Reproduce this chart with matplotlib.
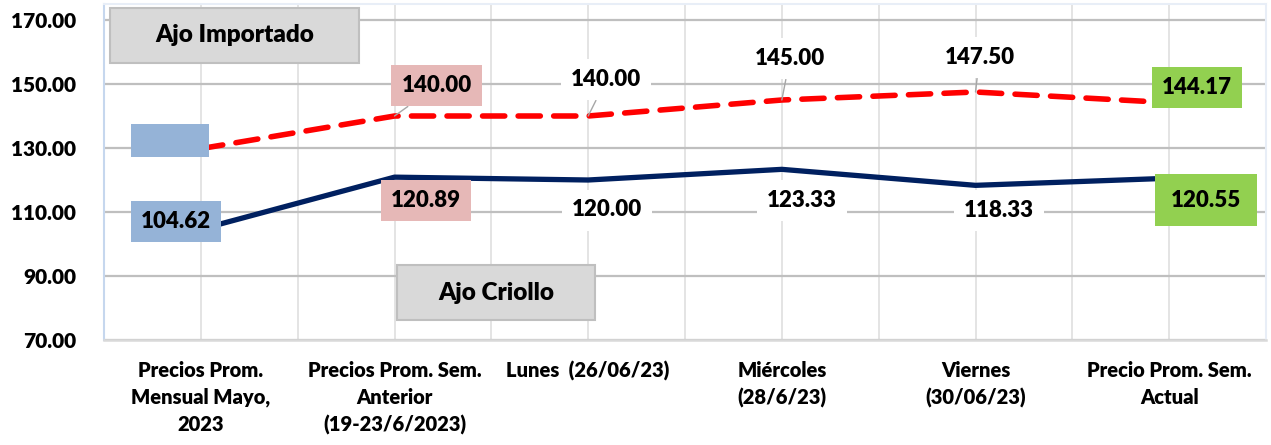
import matplotlib
matplotlib.use("Agg")
import matplotlib.pyplot as plt
from matplotlib.patches import Rectangle
from matplotlib.offsetbox import DrawingArea, AnnotationBbox

plt.rcParams['font.family'] = ['Lato', 'DejaVu Sans']
WT = 'heavy'
plt.rcParams['font.weight'] = WT

categories = ["Precios Prom.\nMensual Mayo,\n2023",
              "Precios Prom. Sem.\nAnterior\n(19-23/6/2023)",
              "Lunes  (26/06/23)",
              "Miércoles\n(28/6/23)",
              "Viernes\n(30/06/23)",
              "Precio Prom. Sem.\nActual"]
importado = [129.8, 140.00, 140.00, 145.00, 147.50, 144.17]
criollo = [104.62, 120.89, 120.00, 123.33, 118.33, 120.55]
yticks = [70, 90, 110, 130, 150, 170]

W, H = 1271, 445
fig = plt.figure(figsize=(W / 100, H / 100), dpi=100)
ax = fig.add_axes([104 / W, 1 - 340 / H, (1266 - 104) / W, (340 - 4) / H])

FS = 16
x = list(range(len(categories)))
ax.set_xlim(-0.5, 5.5)
ax.set_ylim(70, 175)

# grid
for yv in yticks:
    ax.axhline(yv, color='#bfbfbf', lw=1.6, zorder=1)
for k in range(12):
    ax.axvline(-0.5 + 0.5 * k, color='#e4e4e4', lw=1.4, zorder=0.5)

for s in ['top', 'right']:
    ax.spines[s].set_color('#e8eef7')
    ax.spines[s].set_linewidth(1.5)
ax.spines['left'].set_color('#c6d7ee')
ax.spines['left'].set_linewidth(1.5)
ax.spines['bottom'].set_color('#d9d9d9')
ax.spines['bottom'].set_linewidth(1.8)

ax.set_yticks(yticks)
ax.set_yticklabels([f"{v:.2f}" for v in yticks], fontsize=15, fontweight=WT)
ax.tick_params(axis='y', length=0, pad=20)
ax.set_xticks(x)
ax.set_xticklabels(categories, fontsize=14.5, fontweight=WT, linespacing=1.5)
ax.tick_params(axis='x', length=0, pad=15)

# lines
ax.plot(x, criollo, color='#002060', lw=3.8, zorder=3, solid_capstyle='butt')
ax.plot(x, importado, color='#ff0000', lw=4.0, zorder=3, dashes=(4.0, 2.4),
        dash_capstyle='round')

# label styles
PINK = '#e6b8b7'
BLUE = '#95b3d7'
GREEN = '#92d050'

imp_off = [None, (42, 30), (18, 36), (8, 41), (4, 34), (28, 15)]
imp_fc = [None, PINK, 'white', 'white', 'white', GREEN]
imp_leader = [False, True, True, True, True, False]
cri_off = [(-25, 8), (31, -23), (19, -30), (20, -31), (23, -25), (37, -22)]
cri_fc = [BLUE, PINK, 'white', 'white', 'white', GREEN]

for i, v in enumerate(importado):
    if imp_off[i] is None:
        continue
    ap = dict(arrowstyle='-', color='#a6a6a6', lw=1.0, shrinkA=0, shrinkB=0) if imp_leader[i] else None
    ax.annotate(f"{v:.2f}", (x[i], v), xytext=imp_off[i], textcoords='offset pixels',
                ha='center', va='center', fontsize=FS, fontweight=WT, zorder=5,
                bbox=dict(boxstyle='square,pad=0.45', fc=imp_fc[i], ec='none'),
                arrowprops=ap, annotation_clip=False)

# empty label box of first importado point
da = DrawingArea(78 * 0.72, 33 * 0.72, 0, 0)
da.add_artist(Rectangle((0, 0), 78 * 0.72, 33 * 0.72, fc=BLUE, ec='none'))
ab = AnnotationBbox(da, (x[0], importado[0]), xybox=(-31, 8), boxcoords='offset pixels',
                    frameon=False, pad=0, zorder=5)
ax.add_artist(ab)

for i, v in enumerate(criollo):
    pad = 0.7 if i == 5 else 0.45
    ax.annotate(f"{v:.2f}", (x[i], v), xytext=cri_off[i], textcoords='offset pixels',
                ha='center', va='center', fontsize=FS, fontweight=WT, zorder=5,
                bbox=dict(boxstyle=f'square,pad={pad}', fc=cri_fc[i], ec='none'),
                annotation_clip=False)

# series name boxes
def name_box(x0, y0, x1, y1, text):
    fig.add_artist(Rectangle((x0 / W, 1 - y1 / H), (x1 - x0) / W, (y1 - y0) / H,
                             transform=fig.transFigure, fc='#d9d9d9', ec='#bfbfbf', lw=1.5, zorder=6))
    fig.text((x0 + x1) / 2 / W, 1 - (y0 + y1) / 2 / H, text, ha='center', va='center',
             fontsize=17.5, fontweight=WT, zorder=7)

name_box(110, 8, 359, 63, "Ajo Importado")
name_box(397, 265, 595, 320, "Ajo Criollo")

fig.savefig("out.png", dpi=100)
